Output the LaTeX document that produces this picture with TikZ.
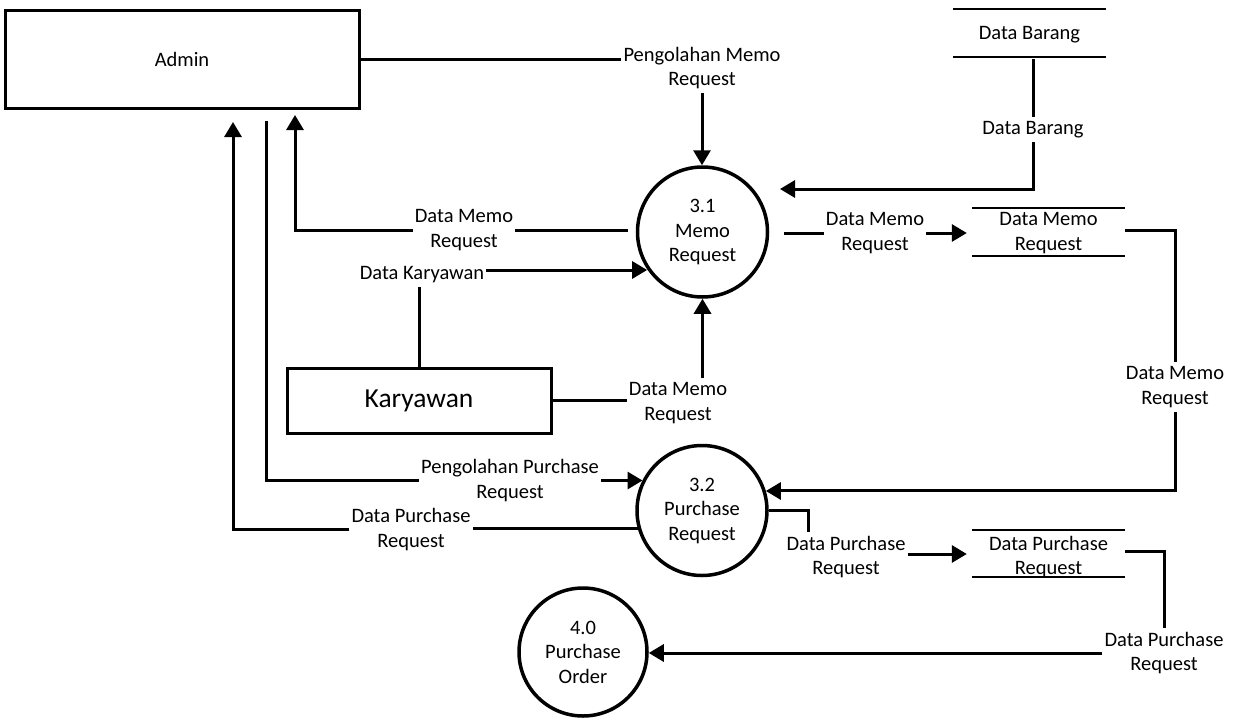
\documentclass[tikz,border=0pt]{standalone}
\usepackage{fontspec}
\setmainfont{Carlito}
\usetikzlibrary{arrows.meta}
\newcommand{\lblfont}{\fontsize{20.5}{24.5}\selectfont}
\newcommand{\bigfont}{\fontsize{27.5}{33}\selectfont}
\tikzset{
  flow/.style={line width=3pt},
  arr/.style={line width=3pt,-{Triangle[length=15pt,width=17pt]}},
  proc/.style={circle,draw,line width=3.5pt,minimum size=130pt,inner sep=0pt,align=center,font=\lblfont},
  ent/.style={rectangle,draw,line width=3pt,inner sep=0pt,font=\lblfont},
  lab/.style={inner xsep=2pt,inner ysep=4pt,align=center,font=\lblfont},
  store/.style={inner sep=0pt,align=center,font=\lblfont,minimum width=153pt,minimum height=48pt},
  storeline/.style={line width=2pt},
}
\begin{document}
\begin{tikzpicture}[x=1pt,y=-1pt]
\fill[white] (0,0) rectangle (1235,718);
\useasboundingbox (0,0) rectangle (1235,718);

% external entities
\node[ent,minimum width=354pt,minimum height=98pt] (admin) at (182,59) {Admin};
\node[ent,minimum width=264pt,minimum height=65pt,font=\bigfont] (kary) at (419,400.5) {Karyawan};

% processes
\node[proc] (p31) at (702.5,232) {3.1\\Memo\\Request};
\node[proc] (p32) at (702,510.5) {3.2\\Purchase\\Request};
\node[proc,minimum size=128pt] (p40) at (583,652) {4.0\\Purchase\\Order};

% data stores
\node[store] (sdb) at (1029.5,35) {Data Barang};
\node[store] (smr) at (1048.5,233) {Data Memo\\Request};
\node[store,minimum height=47pt] (spr) at (1048.5,557) {Data Purchase\\Request};
\foreach \s/\d in {sdb/2,smr/1,spr/3.5}{
  \draw[storeline] ([yshift=\d pt]\s.north west) -- ([yshift=\d pt]\s.north east);
  \draw[storeline] ([yshift=\d pt]\s.south west) -- ([yshift=\d pt]\s.south east);
}

% flow labels
\node[lab] (lPM) at (702,68) {Pengolahan Memo\\Request};
\node[lab] (lDB) at (1033,129.5) {Data Barang};
\node[lab] (lMA) at (464,230) {Data Memo\\Request};
\node[lab] (lDK) at (422,275) {Data Karyawan};
\node[lab] (lMK) at (678,403) {Data Memo\\Request};
\node[lab] (lMO) at (875,233) {Data Memo\\Request};
\node[lab] (lMS) at (1175,387) {Data Memo\\Request};
\node[lab] (lPP) at (510,480.5) {Pengolahan Purchase\\Request};
\node[lab] (lPA) at (411,529.5) {Data Purchase\\Request};
\node[lab] (lPO) at (846,557) {Data Purchase\\Request};
\node[lab] (lPS) at (1164,653) {Data Purchase\\Request};

% free ends
\coordinate (tDB) at (780,189);
\coordinate (aT1) at (233,122);
\coordinate (aS1) at (266,121);
\coordinate (aT2) at (295,115);

% Admin -> 3.1
\draw[flow] (admin.east) -- (admin.east -| lPM.west);
\draw[arr] (lPM.south) -- (lPM.south |- p31.north);

% Data Barang -> 3.1
\draw[flow] (lDB.north |- sdb.south) -- (lDB.north);
\draw[arr] (lDB.south) |- (tDB);

% 3.1 -> Admin
\draw[flow] ([xshift=-8pt]p31.west |- lMA.east) -- (lMA.east);
\draw[arr] (lMA.west) -| (aT2);

% Karyawan -> 3.1 (Data Karyawan)
\draw[flow] (kary.north) -- (kary.north |- lDK.south);
\draw[arr] ([yshift=5pt]lDK.east) -- ([yshift=5pt]lDK.east -| p31.214);

% Karyawan -> 3.1 (Data Memo Request)
\draw[flow] (kary.east) -- (kary.east -| lMK.west);
\draw[arr] (lMK.north -| p31.south) -- (p31.south);

% 3.1 -> Data Memo Request store
\draw[flow] ([xshift=15pt]p31.east |- lMO.west) -- (lMO.west);
\draw[arr] (lMO.east) -- ([xshift=-5pt]lMO.east -| smr.west);

% store -> 3.2
\draw[flow] ([yshift=3pt]smr.east) -| (lMS.north);
\draw[arr] (lMS.south) |- (p32.17);

% Admin -> 3.2
\draw[flow] (aS1) |- (lPP.west);
\draw[arr] (lPP.east) -- (lPP.east -| p32.153);

% 3.2 -> Admin
\draw[flow] (p32.196) -- (p32.196 -| lPA.east);
\draw[arr] (lPA.west) -| (aT1);

% 3.2 -> Data Purchase Request store
\draw[flow] (p32.east) -| ([xshift=-38pt]lPO.north);
\draw[arr] ([yshift=3pt]lPO.east) -- ([yshift=3pt,xshift=-5pt]lPO.east -| spr.west);

% store -> 4.0
\draw[flow] ([yshift=6pt]spr.east) -| (lPS.north);
\draw[arr] (lPS.west) -- (lPS.west -| p40.east);
\end{tikzpicture}
\end{document}
